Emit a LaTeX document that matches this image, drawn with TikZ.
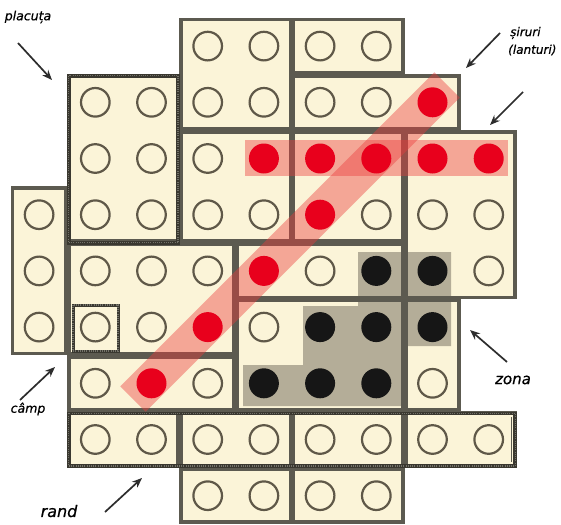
\documentclass[tikz,border=0pt]{standalone}
\usepackage{fontspec}
\newfontfamily\lblfont{DejaVu Sans}[FakeBold=0.6]
\usetikzlibrary{arrows.meta}
\definecolor{cream}{RGB}{251,244,216}
\definecolor{edgec}{RGB}{92,90,80}
\definecolor{edgedark}{RGB}{58,56,48}
\definecolor{studc}{RGB}{95,88,72}
\definecolor{zonac}{RGB}{180,173,152}
\definecolor{reddot}{RGB}{232,0,28}
\definecolor{stripc}{RGB}{236,60,60}
\definecolor{blackdot}{RGB}{22,22,22}
\definecolor{arrowc}{RGB}{45,45,45}
\tikzset{
  platefill/.style={fill=cream},
  plateedge/.style={draw=edgec, line width=3.6pt},
  specialedge/.style={draw=edgedark, line width=3.8pt},
  specialdots/.style={draw=edgec!85!white, line width=1.1pt, dash pattern=on 0.9pt off 1.3pt},
  emptystud/.style={draw=studc, line width=2.2pt},
  redstud/.style={fill=reddot},
  blackstud/.style={fill=blackdot},
  strip/.style={fill=stripc, fill opacity=0.42},
  lbl/.style={inner sep=0pt, text=black},
  arr/.style={draw=arrowc, line width=1.7pt, -{Stealth[length=10pt,width=8pt]}}
}
\begin{document}
\begin{tikzpicture}[x=1pt,y=-1pt]
\useasboundingbox[fill=white] (0,0) rectangle (561,524);
% plate fills
\foreach \pa/\pb/\pc/\pd in {3/0/4/1, 5/0/6/0, 5/1/7/1, 1/1/2/3, 3/2/4/3, 5/2/6/3, 7/2/8/4, 0/3/0/5, 1/4/3/5, 4/4/6/4, 4/5/6/6, 7/5/7/6, 1/6/3/6, 1/7/2/7, 3/7/4/7, 5/7/6/7, 7/7/8/7, 3/8/4/8, 5/8/6/8}
  \path[platefill] ({11+56.2*\pa+1.6},{18+56.2*\pb+1.6}) rectangle ({11+56.2*(\pc+1)-1.6},{18+56.2*(\pd+1)-1.6});
% zona highlight
\fill[zonac] (358,252) -- (451,252) -- (451,346) -- (403,346) -- (403,406) -- (243,406) -- (243,365) -- (303,365) -- (303,306) -- (358,306) -- cycle;
% plate edges
\foreach \pa/\pb/\pc/\pd in {3/0/4/1, 5/0/6/0, 5/1/7/1, 1/1/2/3, 3/2/4/3, 5/2/6/3, 7/2/8/4, 0/3/0/5, 1/4/3/5, 4/4/6/4, 4/5/6/6, 7/5/7/6, 1/6/3/6, 1/7/2/7, 3/7/4/7, 5/7/6/7, 7/7/8/7, 3/8/4/8, 5/8/6/8}
  \path[plateedge] ({11+56.2*\pa+1.6},{18+56.2*\pb+1.6}) rectangle ({11+56.2*(\pc+1)-1.6},{18+56.2*(\pd+1)-1.6});
% empty studs
\foreach \i/\j in {3/0,4/0,5/0,6/0,
  1/1,2/1,3/1,4/1,5/1,6/1,
  1/2,2/2,3/2,
  0/3,1/3,2/3,3/3,4/3,6/3,7/3,8/3,
  0/4,1/4,2/4,3/4,5/4,8/4,
  0/5,1/5,2/5,4/5,
  1/6,3/6,7/6,
  1/7,2/7,3/7,4/7,5/7,6/7,7/7,8/7,
  3/8,4/8,5/8,6/8}
  \path[emptystud] ({39.1+56.2*\i},{46.1+56.2*\j}) circle[radius=14.3pt];
% black studs
\foreach \i/\j in {6/4,7/4,5/5,6/5,7/5,4/6,5/6,6/6}
  \path[blackstud] ({39.1+56.2*\i},{46.1+56.2*\j}) circle[radius=15pt];
% red strips
\path[strip] (245,140) rectangle (508,176);
\path[strip] (133,399) -- ++(-12.7,-12.7) -- (434.3,72.3) -- ++(25.4,25.4) -- (145.7,411.7) -- cycle;
% red studs
\foreach \i/\j in {7/1,4/2,5/2,6/2,7/2,8/2,5/3,4/4,3/5,2/6}
  \path[redstud] ({39.1+56.2*\i},{46.1+56.2*\j}) circle[radius=15pt];
% special outlines: placuta, camp, rand
\path[specialedge] (68.8,75.8) rectangle (178,242.8);
\path[specialdots] (68.8,75.8) rectangle (178,242.8);
\path[specialedge, line width=3pt] (73,305) rectangle (118,351);
\path[specialdots] (73,305) rectangle (118,351);
\path[specialedge] (68.8,413.4) rectangle (515.2,466);
\path[specialdots] (68.8,413.4) rectangle (515.2,466);
\draw[edgec, line width=1pt] (511,417) -- (511,462);
% labels
\node[lbl, font=\lblfont\itshape\fontsize{12.5}{14}\selectfont] (placuta) at (28,17) {placuța};
\node[lbl, font=\lblfont\itshape\fontsize{12}{14}\selectfont, anchor=west] (siruri) at (510,33) {șiruri};
\node[lbl, font=\lblfont\itshape\fontsize{12}{14}\selectfont, anchor=west] (lanturi) at (508,50) {(lanturi)};
\node[lbl, font=\lblfont\itshape\fontsize{15}{17}\selectfont] (zona) at (513,380) {zona};
\node[lbl, font=\lblfont\itshape\fontsize{12.5}{14}\selectfont] (camp) at (28,409) {câmp};
\node[lbl, font=\lblfont\itshape\fontsize{16}{18}\selectfont] (rand) at (59,511) {rand};
% arrows
\coordinate (pa1) at (18,43);   \coordinate (pa2) at (52,80);
\coordinate (sa1) at (500,33);  \coordinate (sa2) at (466,68);
\coordinate (sb1) at (523,92);  \coordinate (sb2) at (490,125);
\coordinate (za1) at (507,362); \coordinate (za2) at (470,330);
\coordinate (ca1) at (20,400);  \coordinate (ca2) at (55,367);
\coordinate (ra1) at (105,512); \coordinate (ra2) at (142,478);
\draw[arr] (pa1) -- (pa2);
\draw[arr] (sa1) -- (sa2);
\draw[arr] (sb1) -- (sb2);
\draw[arr] (za1) -- (za2);
\draw[arr] (ca1) -- (ca2);
\draw[arr] (ra1) -- (ra2);
\end{tikzpicture}
\end{document}
